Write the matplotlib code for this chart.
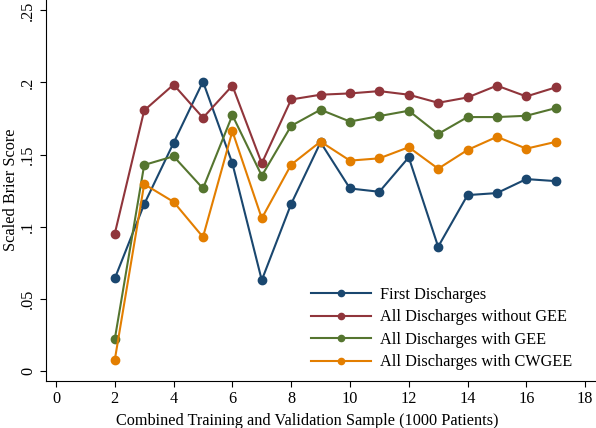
import matplotlib
matplotlib.use('Agg')
import matplotlib.pyplot as plt

plt.rcParams.update({'font.family': 'Liberation Serif', 'font.size': 11.7})

sample = [2, 3, 4, 5, 6, 7, 8, 9, 10, 11, 12, 13, 14, 15, 16, 17]
first_dis = [0.0641, 0.1156, 0.1581, 0.2006, 0.1439, 0.0629, 0.1158, 0.1585,
             0.1265, 0.1242, 0.1481, 0.0861, 0.1219, 0.1233, 0.1330, 0.1316]
all_no_gee = [0.0952, 0.1806, 0.1985, 0.1755, 0.1978, 0.1439, 0.1882, 0.1915,
              0.1924, 0.1940, 0.1915, 0.1859, 0.1896, 0.1978, 0.1903, 0.1966]
all_gee = [0.0221, 0.1428, 0.1488, 0.1265, 0.1773, 0.1353, 0.1699, 0.1811,
           0.1729, 0.1767, 0.1804, 0.1643, 0.1760, 0.1760, 0.1769, 0.1822]
all_cwgee = [0.0077, 0.1295, 0.1172, 0.0928, 0.1662, 0.1058, 0.1430, 0.1590,
             0.1458, 0.1474, 0.1551, 0.1402, 0.1532, 0.1623, 0.1541, 0.1588]

labels = ['First Discharges', 'All Discharges without GEE',
          'All Discharges with GEE', 'All Discharges with CWGEE']
colors = ['#1a476f', '#90353b', '#55752f', '#e37e00']

fig = plt.figure(figsize=(5.96, 4.28), dpi=100)
ax = fig.add_axes([0.0772, 0.1098, 0.9228, 0.893])

for ys, lab, c in zip([first_dis, all_no_gee, all_gee, all_cwgee], labels, colors):
    ax.plot(sample, ys, color=c, linewidth=1.5, marker='o', markersize=6, label=lab)

ax.set_xlim(-0.34, 18.37)
ax.set_ylim(-0.007, 0.258)
ax.set_xticks(range(0, 19, 2))
ax.set_yticks([0, 0.05, 0.1, 0.15, 0.2, 0.25])
ax.set_yticklabels(['0', '.05', '.1', '.15', '.2', '.25'], rotation=90, va='center')
ax.tick_params(direction='out', length=4, width=0.8, pad=3)
ax.spines['top'].set_visible(False)
ax.spines['right'].set_visible(False)

ax.set_xlabel('Combined Training and Validation Sample (1000 Patients)')
ax.xaxis.set_label_coords(0.4745, -0.083)
ax.set_ylabel('Scaled Brier Score')
ax.yaxis.set_label_coords(-0.05, 0.5)

ax.legend(loc='center left', bbox_to_anchor=(0.481, 0.137), frameon=False,
          handlelength=3.7, handletextpad=0.6, borderpad=0, borderaxespad=0,
          labelspacing=0.4, markerscale=0.75)

fig.savefig('out.png', dpi=100)
